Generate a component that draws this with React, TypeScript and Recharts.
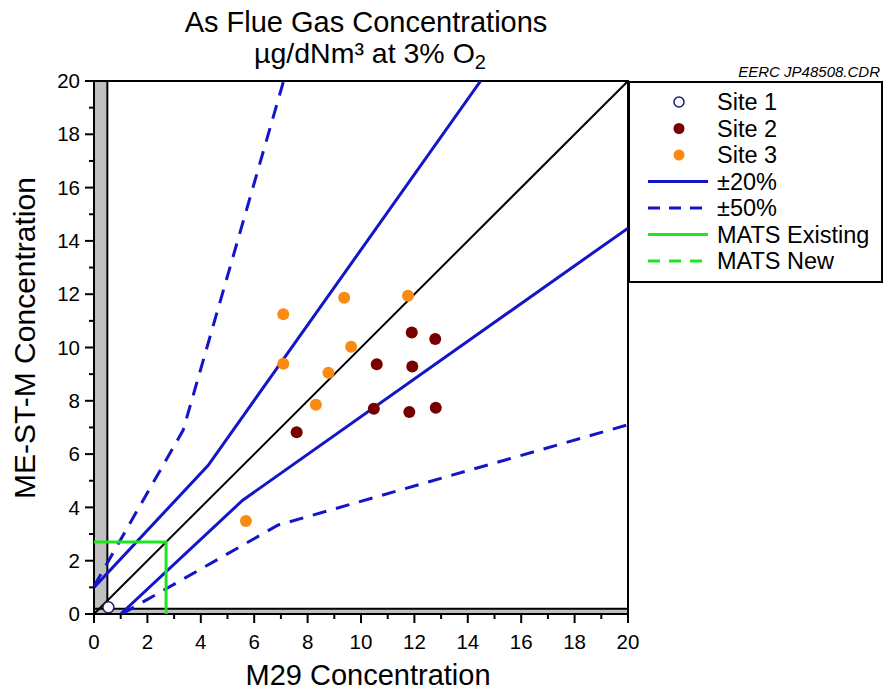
import React from 'react';
import { ScatterChart, Scatter, XAxis, YAxis, ReferenceArea, Customized } from 'recharts';

const site1 = [{ x: 0.54, y: 0.25 }];
const site2 = [
  { x: 7.59, y: 6.82 },
  { x: 10.59, y: 9.37 },
  { x: 11.9, y: 10.56 },
  { x: 12.78, y: 10.32 },
  { x: 11.92, y: 9.29 },
  { x: 10.48, y: 7.7 },
  { x: 11.81, y: 7.58 },
  { x: 12.8, y: 7.74 },
];
const site3 = [
  { x: 7.09, y: 11.25 },
  { x: 9.37, y: 11.87 },
  { x: 11.76, y: 11.94 },
  { x: 9.63, y: 10.03 },
  { x: 7.09, y: 9.39 },
  { x: 8.78, y: 9.05 },
  { x: 8.31, y: 7.85 },
  { x: 5.69, y: 3.49 },
];
const oneToOne = [{ x: 0, y: 0 }, { x: 20, y: 20 }];
const plus20 = [{ x: 0, y: 1.0 }, { x: 4.27, y: 5.57 }, { x: 14.48, y: 20 }];
const minus20 = [{ x: 1.0, y: 0 }, { x: 5.57, y: 4.27 }, { x: 20, y: 14.48 }];
const plus50 = [{ x: 0, y: 1.04 }, { x: 3.34, y: 6.9 }, { x: 7.1, y: 20 }];
const minus50 = [{ x: 1.04, y: 0 }, { x: 6.9, y: 3.34 }, { x: 20, y: 7.1 }];
const matsExisting = [{ x: 0, y: 2.7 }, { x: 2.7, y: 2.7 }, { x: 2.7, y: 0 }];
const tickValues = [0, 1, 2, 3, 4, 5, 6, 7, 8, 9, 10, 11, 12, 13, 14, 15, 16, 17, 18, 19, 20];

const legendItems = [
  { label: 'Site 1', kind: 'open', color: '#1c1c70' },
  { label: 'Site 2', kind: 'dot', color: '#780000' },
  { label: 'Site 3', kind: 'dot', color: '#fa8a12' },
  { label: '±20%', kind: 'line', color: '#1414c8' },
  { label: '±50%', kind: 'dash', color: '#1414c8' },
  { label: 'MATS Existing', kind: 'line', color: '#1ee61e' },
  { label: 'MATS New', kind: 'dash', color: '#1ee61e' },
];

const FONT = "'Liberation Sans', Arial, sans-serif";
const BLUE = '#1414c8';
const GREEN = '#1ee61e';

const noShape = () => <g />;

const YTick = (props: any) => {
  const { x, y, payload } = props;
  const major = payload.value % 2 === 0;
  return (
    <g>
      <line x1={x} x2={x - (major ? 9 : 5)} y1={y} y2={y} stroke="#000" strokeWidth={2} />
      {major && (
        <text x={x - 14} y={y} dy="0.35em" textAnchor="end" fontSize={20.5} fontFamily={FONT} fill="#000">
          {payload.value}
        </text>
      )}
    </g>
  );
};

const XTick = (props: any) => {
  const { x, y, payload } = props;
  const major = payload.value % 2 === 0;
  return (
    <g>
      <line x1={x} x2={x} y1={y} y2={y + (major ? 9 : 5)} stroke="#000" strokeWidth={2} />
      {major && (
        <text x={x} y={y + 35} textAnchor="middle" fontSize={20.5} fontFamily={FONT} fill="#000">
          {payload.value}
        </text>
      )}
    </g>
  );
};

const Decor = () => (
  <g fontFamily={FONT} fill="#000">
    <text x={366} y={32} textAnchor="middle" fontSize={29}>As Flue Gas Concentrations</text>
    <text x={370} y={63} textAnchor="middle" fontSize={28.5}>
      µg/dNm³ at 3% O<tspan dy={6} fontSize={20}>2</tspan>
    </text>
    <text x={880} y={77} textAnchor="end" fontSize={15} fontStyle="italic">EERC JP48508.CDR</text>
    <text x={35} y={338} transform="rotate(-90 35 338)" textAnchor="middle" fontSize={30}>ME-ST-M Concentration</text>
    <text x={368} y={685} textAnchor="middle" fontSize={29}>M29 Concentration</text>
    <rect x={629} y={82} width={253} height={200} fill="#fff" stroke="#000" strokeWidth={2} />
    {legendItems.map((it, i) => {
      const cy = 102 + i * 26.5;
      let sym: any = null;
      if (it.kind === 'open') sym = <circle cx={679} cy={cy} r={5} fill="#fff" stroke={it.color} strokeWidth={1.5} />;
      else if (it.kind === 'dot') sym = <circle cx={679} cy={cy} r={5.5} fill={it.color} />;
      else if (it.kind === 'line') sym = <line x1={648} x2={708} y1={cy} y2={cy} stroke={it.color} strokeWidth={3} />;
      else sym = <line x1={648} x2={708} y1={cy} y2={cy} stroke={it.color} strokeWidth={3} strokeDasharray="12 9" />;
      return (
        <g key={it.label}>
          {sym}
          <text x={717} y={cy} dy="0.35em" fontSize={23.5} fill="#000">{it.label}</text>
        </g>
      );
    })}
  </g>
);

const dot = (color: string) => (p: any) => <circle cx={p.cx} cy={p.cy} r={6} fill={color} />;
const openDot = (p: any) => <circle cx={p.cx} cy={p.cy} r={5.5} fill="#fff" stroke="#1c1c70" strokeWidth={1.5} />;

export default function App() {
  return (
    <div style={{ position: 'absolute', left: 0, top: 0, width: 884, height: 691, background: '#fff' }}>
      <ScatterChart width={884} height={691} margin={{ top: 81, right: 256, bottom: 0, left: 0 }}>
        <XAxis
          type="number"
          dataKey="x"
          domain={[0, 20]}
          ticks={tickValues}
          interval={0}
          height={77}
          tickSize={0}
          tickMargin={0}
          tick={<XTick />}
          axisLine={{ stroke: '#000', strokeWidth: 2 }}
          allowDataOverflow
        />
        <YAxis
          type="number"
          dataKey="y"
          domain={[0, 20]}
          ticks={tickValues}
          interval={0}
          width={94}
          tickSize={0}
          tickMargin={0}
          tick={<YTick />}
          axisLine={{ stroke: '#000', strokeWidth: 2 }}
          allowDataOverflow
        />
        <ReferenceArea x1={0} x2={0.5} y1={0} y2={20} fill="#c0c0c0" fillOpacity={1} stroke="#000" strokeWidth={2} />
        <ReferenceArea x1={0} x2={20} y1={0} y2={0.2} fill="#c0c0c0" fillOpacity={1} stroke="#000" strokeWidth={2} />
        <ReferenceArea x1={0} x2={20} y1={0} y2={20} fill="none" stroke="#000" strokeWidth={2} />
        <Scatter data={oneToOne} isAnimationActive={false} shape={noShape} line={{ stroke: '#000', strokeWidth: 2 }} lineType="joint" legendType="none" />
        <Scatter data={plus20} isAnimationActive={false} shape={noShape} line={{ stroke: BLUE, strokeWidth: 3 }} lineType="joint" legendType="none" />
        <Scatter data={minus20} isAnimationActive={false} shape={noShape} line={{ stroke: BLUE, strokeWidth: 3 }} lineType="joint" legendType="none" />
        <Scatter data={plus50} isAnimationActive={false} shape={noShape} line={{ stroke: BLUE, strokeWidth: 3, strokeDasharray: '14 10' }} lineType="joint" legendType="none" />
        <Scatter data={minus50} isAnimationActive={false} shape={noShape} line={{ stroke: BLUE, strokeWidth: 3, strokeDasharray: '14 10' }} lineType="joint" legendType="none" />
        <Scatter data={matsExisting} isAnimationActive={false} shape={noShape} line={{ stroke: GREEN, strokeWidth: 3 }} lineType="joint" legendType="none" />
        <Scatter data={site2} isAnimationActive={false} shape={dot('#780000')} legendType="none" />
        <Scatter data={site3} isAnimationActive={false} shape={dot('#fa8a12')} legendType="none" />
        <Scatter data={site1} isAnimationActive={false} shape={openDot} legendType="none" />
        <Customized component={<Decor />} />
      </ScatterChart>
    </div>
  );
}
